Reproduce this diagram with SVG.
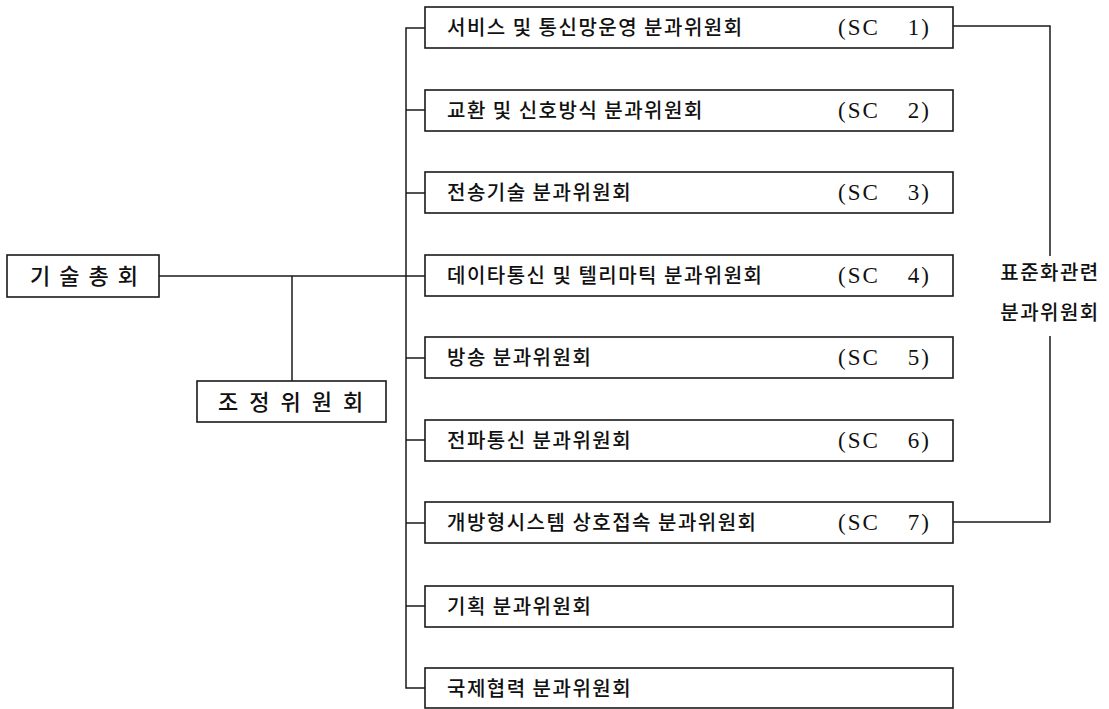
<svg xmlns="http://www.w3.org/2000/svg" width="1109" height="709" viewBox="0 0 1109 709">
<style>
.box{fill:#fff;stroke:#1a1a1a;stroke-width:1.6}
.ln{fill:none;stroke:#1a1a1a;stroke-width:1.5}
.k{font-family:"Noto Sans CJK KR","Noto Sans",sans-serif;font-size:20px;font-weight:500;letter-spacing:1.5px;fill:#111}
.big{font-size:22px;letter-spacing:9px}
.big2{font-size:22px;letter-spacing:11px}
.sc{font-family:"Liberation Serif",serif;font-size:23px;letter-spacing:2px;fill:#111}
</style>
<rect width="1109" height="709" fill="#fff"/>
<g id="connectors">
<path class="ln" d="M159,276 H425"/>
<path class="ln" d="M292,276 V381"/>
<path class="ln" d="M425,28 H406 V688 H425"/>
<path class="ln" d="M406,110 H425 M406,193 H425 M406,358 H425 M406,440 H425 M406,523 H425 M406,606 H425"/>
<path class="ln" d="M953,26 H1050 V256 M1050,336 V522 H953"/>
</g>
<g id="n-gen"><rect class="box" x="7" y="255" width="152" height="42"/><text class="k big" x="30" y="284">기술총회</text></g>
<g id="n-coord"><rect class="box" x="197" y="381" width="189" height="41"/><text class="k big2" x="218" y="410">조정위원회</text></g>
<g id="sc1"><rect class="box" x="425" y="7" width="528" height="41"/><text class="k" x="447" y="35">서비스 및 통신망운영 분과위원회</text><text class="sc" x="838" y="35">(SC</text><text class="sc" x="931" y="35" text-anchor="end">1)</text></g>
<g id="sc2"><rect class="box" x="425" y="90" width="528" height="41"/><text class="k" x="447" y="118">교환 및 신호방식 분과위원회</text><text class="sc" x="838" y="118">(SC</text><text class="sc" x="931" y="118" text-anchor="end">2)</text></g>
<g id="sc3"><rect class="box" x="425" y="172" width="528" height="41"/><text class="k" x="447" y="200">전송기술 분과위원회</text><text class="sc" x="838" y="200">(SC</text><text class="sc" x="931" y="200" text-anchor="end">3)</text></g>
<g id="sc4"><rect class="box" x="425" y="255" width="528" height="41"/><text class="k" x="447" y="283">데이타통신 및 텔리마틱 분과위원회</text><text class="sc" x="838" y="283">(SC</text><text class="sc" x="931" y="283" text-anchor="end">4)</text></g>
<g id="sc5"><rect class="box" x="425" y="337" width="528" height="41"/><text class="k" x="447" y="365">방송 분과위원회</text><text class="sc" x="838" y="365">(SC</text><text class="sc" x="931" y="365" text-anchor="end">5)</text></g>
<g id="sc6"><rect class="box" x="425" y="420" width="528" height="41"/><text class="k" x="447" y="448">전파통신 분과위원회</text><text class="sc" x="838" y="448">(SC</text><text class="sc" x="931" y="448" text-anchor="end">6)</text></g>
<g id="sc7"><rect class="box" x="425" y="502" width="528" height="41"/><text class="k" x="447" y="530">개방형시스템 상호접속 분과위원회</text><text class="sc" x="838" y="530">(SC</text><text class="sc" x="931" y="530" text-anchor="end">7)</text></g>
<g id="plan"><rect class="box" x="425" y="586" width="528" height="41"/><text class="k" x="447" y="614">기획 분과위원회</text></g>
<g id="intl"><rect class="box" x="425" y="668" width="528" height="40"/><text class="k" x="447" y="696">국제협력 분과위원회</text></g>
<g id="label"><text class="k" x="1050" y="280" text-anchor="middle">표준화관련</text><text class="k" x="1050" y="320" text-anchor="middle">분과위원회</text></g>
</svg>
